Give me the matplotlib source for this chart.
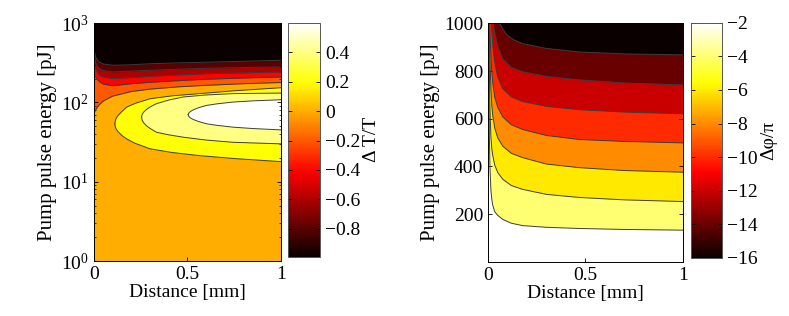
import matplotlib.pyplot as plt
import numpy as np
from matplotlib import cm, colors

plt.rcParams['font.family'] = ['Liberation Serif', 'DejaVu Serif']
plt.rcParams['mathtext.fontset'] = 'stix'

# ---- left panel: Delta T/T, contour lines (x in mm, E in pJ) ----
t_range = [-0.99, 0.6]

# open contours (top part), levels -0.8 .. 0
t_line_x = [0.0, 0.005, 0.01, 0.02, 0.03, 0.05, 0.1, 0.2, 0.3, 0.45, 0.6, 0.8, 1.0]
t_m08 = [483, 410, 371, 335, 321, 305, 294, 298, 307, 315, 321, 330, 340]
t_m06 = [394, 345, 312, 282, 266, 252, 242, 248, 254, 262, 269, 275, 280]
t_m04 = [312, 285, 262, 235, 220, 208, 200, 206, 213, 222, 230, 236, 242]
t_m02 = [220, 214, 207, 192, 182, 170, 162, 172, 179, 188, 196, 203, 209]
t_00 = [73, 77, 81, 88, 94, 104, 120, 137, 147, 157, 164, 172, 178]

# closed contours 0.2 / 0.4 / 0.6 (nose on the left, open at x = 1)
ell02_x = [0.112, 0.115, 0.12, 0.13, 0.15, 0.175, 0.22, 0.3, 0.42, 0.567, 0.75, 1.0]
ell02_hi = [53.7, 59.4, 63.3, 68.7, 76.8, 87, 97, 111, 121, 129, 140, 153]
ell02_lo = [53.7, 48.7, 45.9, 42.5, 38.2, 34.7, 30.5, 26, 23.3, 21.3, 19.6, 17.9]
ell04_x = [0.255, 0.258, 0.265, 0.28, 0.3, 0.335, 0.4, 0.478, 0.6, 0.745, 1.0]
ell04_hi = [65.2, 70.3, 74.8, 81.1, 87.4, 96.4, 107, 117, 124, 129, 131]
ell04_lo = [65.2, 59.8, 55.8, 51, 47, 42, 39, 36.4, 33.5, 31.4, 30]
ell06_x = [0.504, 0.507, 0.515, 0.53, 0.55, 0.575, 0.603, 0.66, 0.745, 0.85, 1.0]
ell06_hi = [69.9, 73.1, 76.4, 80.2, 84, 87.8, 91.6, 96, 101, 104.5, 108]
ell06_lo = [69.9, 66.7, 64, 61.1, 58.5, 56, 53.7, 51.3, 48.7, 46.8, 45]

# ---- right panel: Delta phi/pi, levels -2 .. -14 ----
p_range = [-16, -2]
p_m14_x = [0.06, 0.07, 0.085, 0.1, 0.13, 0.178, 0.3, 0.47, 0.7, 1.0]
p_m14 = [1000, 985, 965, 950, 932, 915, 895, 880, 872, 868]
p_m12_x = [0.027, 0.035, 0.05, 0.076, 0.12, 0.178, 0.3, 0.47, 0.7, 1.0]
p_m12 = [1000, 960, 905, 850, 815, 797, 778, 763, 750, 742]
p_m10_x = [0.017, 0.02, 0.025, 0.035, 0.05, 0.076, 0.12, 0.178, 0.3, 0.47, 0.7, 1.0]
p_m10 = [1000, 960, 905, 835, 775, 726, 692, 672, 652, 638, 628, 621]
p_m08_x = [0.009, 0.012, 0.015, 0.02, 0.025, 0.035, 0.05, 0.076, 0.12, 0.178, 0.3, 0.47, 0.7, 1.0]
p_m08 = [1000, 920, 860, 790, 745, 690, 648, 608, 575, 555, 530, 513, 505, 499]
p_m06_x = [0.006, 0.008, 0.01, 0.015, 0.02, 0.025, 0.035, 0.05, 0.076, 0.12, 0.178, 0.3, 0.47, 0.7, 1.0]
p_m06 = [1000, 920, 850, 720, 650, 610, 560, 520, 485, 455, 437, 410, 395, 383, 376]
p_m04_x = [0.005, 0.007, 0.01, 0.015, 0.02, 0.025, 0.035, 0.05, 0.076, 0.12, 0.178, 0.3, 0.47, 0.7, 1.0]
p_m04 = [1000, 800, 640, 520, 470, 443, 405, 375, 346, 320, 304, 283, 270, 260, 253]
p_m02_x = [0.003, 0.005, 0.007, 0.01, 0.015, 0.02, 0.025, 0.035, 0.05, 0.076, 0.12, 0.178, 0.3, 0.47, 0.7, 1.0]
p_m02 = [1000, 700, 520, 400, 300, 260, 235, 210, 195, 178, 162, 152, 145, 140, 136, 133]

LINE_C = '#3c3c3c'
LW = 0.7
FS = 14
cmap = plt.get_cmap('hot')

fig = plt.figure(figsize=(7.89, 3.16), dpi=100)


def style_axes(ax):
    ax.tick_params(direction='in', top=True, right=True, labelsize=FS,
                   length=3, width=0.6, which='major')
    ax.tick_params(direction='in', top=True, right=True, length=1.5,
                   width=0.5, which='minor')
    for s in ax.spines.values():
        s.set_linewidth(0.7)
    ax.set_xlim(0, 1)
    ax.set_xticks([0, 0.5, 1])
    ax.set_xticklabels(['0', '0.5', '1'])
    ax.set_xlabel('Distance [mm]', fontsize=FS, labelpad=1)
    ax.set_ylabel('Pump pulse energy [pJ]', fontsize=15, labelpad=3)


def add_cbar(rect, norm, ticks, labels, label):
    cax = fig.add_axes(rect)
    sm = cm.ScalarMappable(norm=norm, cmap=cmap)
    cb = fig.colorbar(sm, cax=cax)
    cb.set_ticks(ticks)
    cb.set_ticklabels(labels)
    cb.outline.set_linewidth(0.7)
    cb.outline.set_edgecolor('#555555')
    cax.tick_params(direction='in', length=3, width=0.6, labelsize=FS,
                    left=True, right=True)
    cb.set_label(label, fontsize=FS, labelpad=2)


# ---------------- left ----------------
ax1 = fig.add_axes([0.119, 0.174, 0.237, 0.753])
norm1 = colors.Normalize(vmin=t_range[0], vmax=t_range[1])
ax1.set_yscale('log')
ax1.set_ylim(1, 1000)
ax1.set_facecolor(cmap(norm1(0.0)))

for ex, hi, lo, lev in [(ell02_x, ell02_hi, ell02_lo, 0.2),
                        (ell04_x, ell04_hi, ell04_lo, 0.4),
                        (ell06_x, ell06_hi, ell06_lo, 0.6)]:
    ax1.fill(ex + ex[::-1], hi + lo[::-1], color=cmap(norm1(lev)), lw=0)
    ax1.plot(ex, hi, color=LINE_C, lw=LW)
    ax1.plot(ex, lo, color=LINE_C, lw=LW)

upper = [(t_00, -0.2), (t_m02, -0.4), (t_m04, -0.6), (t_m06, -0.8),
         (t_m08, t_range[0])]
for ys, lev in upper:
    ax1.fill_between(t_line_x, ys, 1e4, color=cmap(norm1(lev)), lw=0)
    ax1.plot(t_line_x, ys, color=LINE_C, lw=LW)

style_axes(ax1)
ax1.set_ylim(1, 1000)
add_cbar([0.365, 0.188, 0.0405, 0.739], norm1,
         [-0.8, -0.6, -0.4, -0.2, 0, 0.2, 0.4],
         ['\u22120.8', '\u22120.6', '\u22120.4', '\u22120.2', '0', '0.2', '0.4'],
         '\u0394 T/T')

# ---------------- right ----------------
ax2 = fig.add_axes([0.6185, 0.172, 0.247, 0.754])
norm2 = colors.Normalize(vmin=p_range[0], vmax=p_range[1])
ax2.set_facecolor(cmap(norm2(-2)))
right_lines = [(p_m02_x, p_m02, -4), (p_m04_x, p_m04, -6), (p_m06_x, p_m06, -8),
               (p_m08_x, p_m08, -10), (p_m10_x, p_m10, -12),
               (p_m12_x, p_m12, -14), (p_m14_x, p_m14, -16)]
for xs, ys, lev in right_lines:
    ax2.fill_between(xs, ys, 1e4, color=cmap(norm2(lev)), lw=0)
    ax2.plot(xs, ys, color=LINE_C, lw=LW)

style_axes(ax2)
ax2.set_ylim(1, 1000)
ax2.set_yticks([200, 400, 600, 800, 1000])
add_cbar([0.876, 0.184, 0.039, 0.744], norm2,
         [-16, -14, -12, -10, -8, -6, -4, -2],
         ['\u221216', '\u221214', '\u221212', '\u221210', '\u22128', '\u22126', '\u22124', '\u22122'],
         '\u0394\u03c6/\u03c0')

fig.savefig('out.png', dpi=100)
